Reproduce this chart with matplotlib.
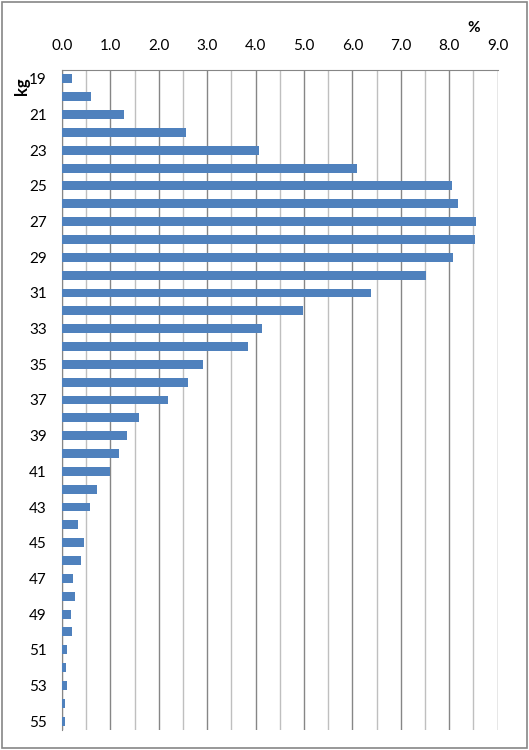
import matplotlib
matplotlib.use("Agg")
import matplotlib.pyplot as plt
from matplotlib.ticker import MultipleLocator

# weight (kg) distribution, share of total in %
weights = list(range(19, 56))
shares = [0.21, 0.60, 1.29, 2.56, 4.07, 6.09, 8.05, 8.19, 8.56, 8.54,
          8.07, 7.52, 6.39, 4.97, 4.13, 3.84, 2.91, 2.60, 2.19, 1.60,
          1.35, 1.17, 0.99, 0.72, 0.58, 0.33, 0.45, 0.39, 0.23, 0.27,
          0.19, 0.21, 0.11, 0.09, 0.11, 0.07, 0.07]
tick_labels = [str(w) if w % 2 == 1 else "" for w in weights]
x_ticks = list(range(10))

plt.rcParams["font.family"] = ["Lato", "DejaVu Sans"]

fig = plt.figure(figsize=(5.29, 7.5), dpi=100)
ax = fig.add_axes([62 / 529, 20 / 750, (497.7 - 62) / 529, 660 / 750])

ypos = list(range(len(weights)))
ax.barh(ypos, shares, height=0.5, color="#4F81BD", zorder=3)

ax.set_xlim(0, 9)
ax.set_ylim(len(weights) - 0.5, -0.5)
ax.xaxis.tick_top()
ax.set_xticks(x_ticks)
ax.set_xticklabels([f"{v:.1f}" for v in x_ticks])
ax.xaxis.set_minor_locator(MultipleLocator(0.5))
ax.set_yticks(ypos)
ax.set_yticklabels(tick_labels)

ax.grid(True, which="major", axis="x", color="#868686", lw=1.0, zorder=0)
ax.grid(True, which="minor", axis="x", color="#BFBFBF", lw=1.0, zorder=0)
ax.tick_params(axis="both", which="both", length=0, labelsize=11)
ax.tick_params(axis="x", pad=12)
ax.tick_params(axis="y", pad=11)

for s in ("bottom", "right"):
    ax.spines[s].set_visible(False)
ax.spines["top"].set_color("#868686")
ax.spines["left"].set_color("#868686")

fig.text(474 / 529, 1 - 28 / 750, "%", ha="center", va="center",
         fontsize=11, fontweight="bold")
fig.text(22 / 529, 1 - 86 / 750, "kg", ha="center", va="center",
         fontsize=12, fontweight="bold", rotation=90)

# outer chart border
fig.patches.append(plt.Rectangle((2 / 529, 2 / 750), 525 / 529, 746 / 750,
                                 transform=fig.transFigure, fill=False,
                                 edgecolor="#868686", lw=1.2))

fig.savefig("out.png", dpi=100)
